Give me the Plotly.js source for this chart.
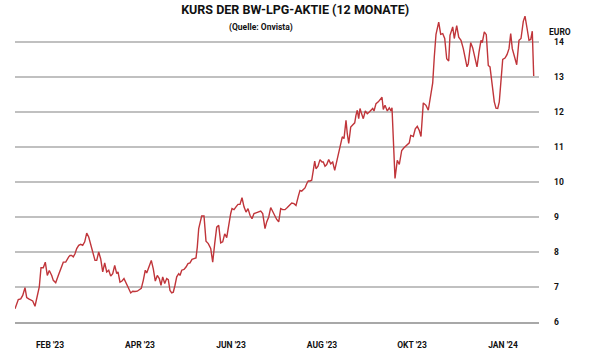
<!DOCTYPE html>
<html><head><meta charset="utf-8">
<script src="https://cdn.plot.ly/plotly-3.0.1.min.js"></script>
<style>html,body{margin:0;padding:0;background:#fff}#c{width:600px;height:354px}</style>
</head><body><div id="c"></div>
<script>
// days since start of the 12-month window
const days = [0,2.3,4.0,5.4,7.0,8.2,9.6,11.0,12.4,14.0,15.2,17.0,18.2,19.8,21.2,22.6,24.0,25.7,26.8,28.5,30.3,32.0,33.8,35.5,36.6,37.6,38.5,39.7,40.8,42.0,43.2,44.6,46.0,47.4,48.8,50.2,51.6,53.0,54.4,56.0,57.2,58.6,60.0,61.4,62.8,64.2,65.6,67.0,68.4,69.8,71.2,72.1,73.5,74.9,76.3,77.7,79.1,81.0,82.4,84.0,85.6,87.0,88.4,89.8,91.2,92.2,94.0,95.4,96.8,98.2,99.6,101.0,102.2,103.4,104.8,106.2,107.3,108.5,109.7,110.8,112.0,113.2,114.6,115.5,116.7,118.3,119.7,121.1,122.5,123.9,125.3,126.7,127.6,128.6,130.7,132.3,133.7,135.3,137.0,138.4,139.8,141.2,142.6,144.0,145.4,146.8,148.2,149.6,151.0,151.9,153.3,154.7,156.1,157.5,158.9,160.3,161.7,163.1,164.5,165.9,167.3,168.7,170.1,172.0,173.4,175.0,176.2,177.6,179.0,180.4,181.8,183.2,184.6,186.0,187.4,189.0,190.6,192.0,193.7,195.3,196.7,198.3,199.5,200.7,201.8,203.0,204.2,205.3,206.5,207.7,208.8,209.8,210.7,212.1,213.5,214.9,215.8,217.0,218.2,219.6,221.0,222.4,223.8,225.2,226.6,228.0,229.1,230.3,231.7,232.6,233.6,235.0,236.4,237.8,238.7,239.6,240.6,241.5,242.7,243.8,245.2,246.6,248.0,250.4,251.3,252.7,254.3,256.0,256.9,257.8,259.0,260.6,262.0,263.2,263.9,266.0,267.6,269.0,270.7,272.3,274.2,276.0,277.0,278.8,280.2,281.6,283.0,284.2,285.8,287.7,289.3,291.0,292.4,293.5,294.7,296.6,298.0,299.4,300.8,302.2,303.6,304.5,306.4,307.5,309.2,310.6,312.2,313.8,315.7,316.4,317.3,319.0,320.4,322.0,323.4,324.8,326.2,327.1,328.5,329.9,331.3,332.5,334.1,335.5,336.7,337.9,339.0,340.2,341.4,343.0,344.4,345.8,347.0,348.1,349.5,351.2,352.8,354.2,355.8,357.0,358.4,359.8,361.0,362.1,363.1];
const kurs = [6.38,6.64,6.66,6.76,6.98,6.70,6.66,6.64,6.60,6.45,6.66,7.00,7.55,7.55,7.71,7.33,7.47,7.33,7.19,7.12,7.33,7.52,7.71,7.71,7.81,7.86,7.90,7.90,7.86,7.95,8.10,8.19,8.22,8.19,8.29,8.54,8.43,8.22,8.07,7.76,7.76,8.00,7.80,7.43,7.69,7.43,7.48,7.31,7.38,7.62,7.38,7.43,7.14,7.17,7.24,7.10,7.00,6.83,6.88,6.87,6.88,6.92,6.96,7.19,7.48,7.40,7.59,7.76,7.52,7.17,7.33,7.24,7.05,7.29,7.10,7.24,7.21,6.90,6.83,6.85,7.05,7.29,7.38,7.33,7.48,7.50,7.57,7.67,7.69,7.79,7.81,7.83,8.14,8.67,9.03,9.03,8.31,8.24,8.10,7.71,8.24,8.71,8.76,8.26,8.29,8.52,8.41,8.81,9.10,9.24,9.21,9.29,9.36,9.36,9.55,9.29,9.14,9.24,9.05,8.95,9.10,9.12,9.14,9.17,9.10,8.67,8.86,9.00,9.27,9.14,9.05,8.93,8.86,9.24,9.21,9.21,9.27,9.33,9.40,9.38,9.33,9.59,9.76,9.74,9.78,9.83,9.95,10.03,10.03,10.05,10.33,10.60,10.38,10.45,10.64,10.57,10.57,10.45,10.50,10.64,10.52,10.57,10.33,10.57,10.81,11.05,11.29,11.24,11.76,11.38,11.10,11.57,11.62,11.69,11.91,12.05,11.81,12.10,11.94,11.81,12.03,11.95,12.00,12.10,12.03,12.24,12.29,12.36,12.42,12.07,12.19,12.03,12.12,12.03,12.12,10.10,10.62,10.50,10.90,10.98,11.05,11.12,11.33,11.30,11.52,11.59,11.47,11.30,12.26,12.19,12.05,12.52,12.83,13.57,14.22,14.57,14.22,14.24,14.10,13.52,13.46,14.19,14.43,14.10,14.47,14.14,14.05,13.81,13.48,13.29,13.38,13.98,13.83,13.52,13.29,13.71,14.05,13.98,14.29,14.21,13.33,13.29,12.76,12.29,12.11,12.10,12.29,12.86,13.50,13.54,13.64,13.81,14.24,13.81,13.60,13.35,14.05,14.10,14.59,14.74,14.40,14.05,14.07,14.31,13.03];
const tickDays = [24.5, 87.5, 151.2, 214.9, 277.9, 341.6];
const tickLabels = ["FEB '23", "APR '23", "JUN '23", "AUG '23", "OKT '23", "JAN '24"];
const yTicks = [6, 7, 8, 9, 10, 11, 12, 13, 14];

const font = "Roboto, 'Liberation Sans', Arial, sans-serif";
Plotly.newPlot('c', [{
  x: days, y: kurs, type: 'scatter', mode: 'lines',
  line: {color: '#c0353a', width: 1.4, shape: 'linear'},
  hoverinfo: 'skip'
}], {
  width: 600, height: 354,
  margin: {l: 15, r: 61, t: 14, b: 32, pad: 0},
  paper_bgcolor: '#fff', plot_bgcolor: '#fff',
  showlegend: false,
  title: {text: '<b>KURS DER BW-LPG-AKTIE (12 MONATE)</b>', font: {family: font, size: 12.5, color: '#111'}, x: 0.492, xanchor: 'center', y: 0.972, yanchor: 'middle', yref: 'container'},
  xaxis: {
    range: [0, 366.8], showgrid: false, zeroline: false,
    showline: true, linecolor: '#a8a8a8', linewidth: 2,
    tickmode: 'array', tickvals: tickDays, ticktext: tickLabels,
    ticks: '', ticklabelstandoff: 14,
    tickfont: {family: font, size: 8.5, color: '#111', weight: 'bold'},
    fixedrange: true
  },
  yaxis: {
    range: [6, 14.8], side: 'right',
    tickmode: 'array', tickvals: yTicks, ticktext: yTicks.map(String),
    showgrid: true, gridcolor: '#c0c0c0', gridwidth: 1.6, zeroline: false,
    showline: false, ticks: '', ticklabelstandoff: 14,
    tickfont: {family: font, size: 8.5, color: '#111', weight: 'bold'},
    fixedrange: true
  },
  annotations: [
    {text: '<b>(Quelle: Onvista)</b>', xref: 'paper', yref: 'paper', x: 0.47, y: 1, xanchor: 'center', yanchor: 'middle',
     yshift: -13, showarrow: false, font: {family: font, size: 8.5, color: '#111'}},
    {text: '<b>EURO</b>', xref: 'paper', yref: 'paper', x: 1, y: 1, xanchor: 'left', yanchor: 'middle',
     xshift: 8, yshift: -18, showarrow: false, font: {family: font, size: 8.5, color: '#111'}}
  ]
}, {displayModeBar: false, staticPlot: true});
</script>
</body></html>
